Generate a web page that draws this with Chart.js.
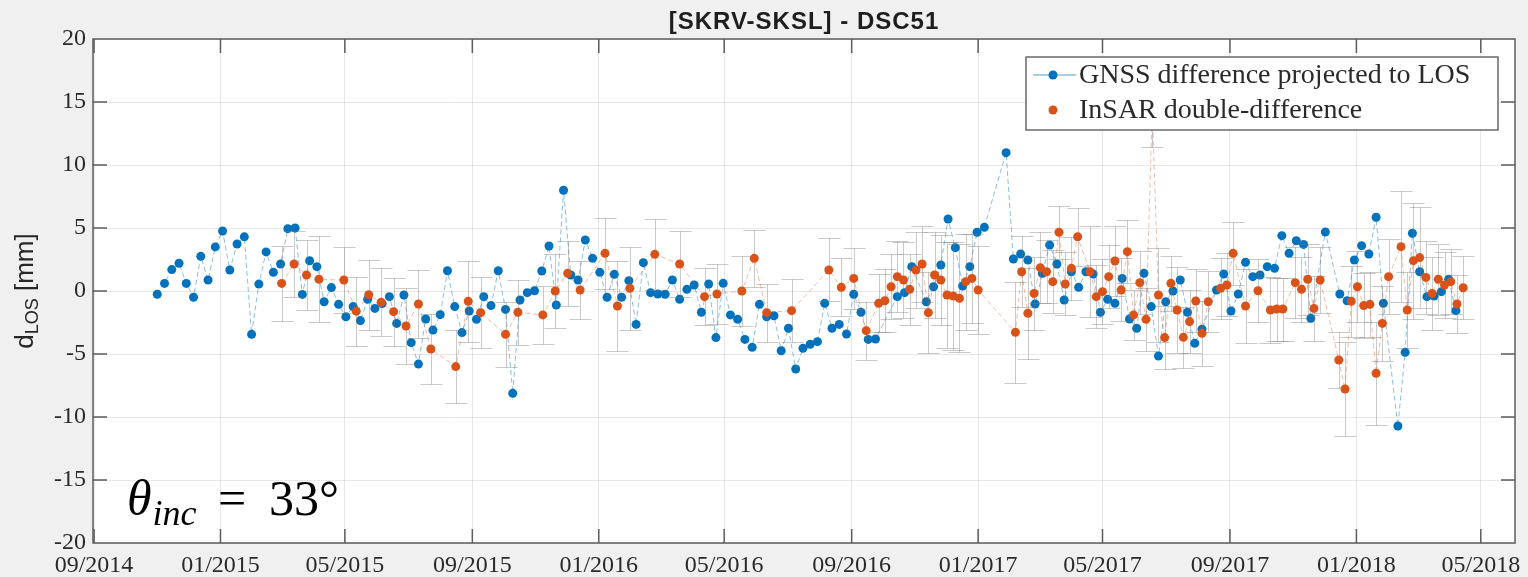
<!DOCTYPE html>
<html>
<head>
<meta charset="utf-8">
<title>[SKRV-SKSL] - DSC51</title>
<script src="https://cdn.jsdelivr.net/npm/chart.js@4.4.1/dist/chart.umd.min.js"></script>
<style>
  html, body { margin: 0; padding: 0; background: #f0f0f0; }
  #wrap { width: 1528px; height: 577px; position: relative; }
  canvas { display: block; }
</style>
</head>
<body>
<div id="wrap"><canvas id="chart" width="1528" height="577"></canvas></div>
<script>
// ---- axis labels ----
const tickLabels = ['09/2014', '01/2015', '05/2015', '09/2015', '01/2016', '05/2016',
                    '09/2016', '01/2017', '05/2017', '09/2017', '01/2018', '05/2018'];
const xRange = ['2014-08-31', '2018-06-03'];
const yRange = [-20, 20];

// ---- GNSS baseline difference projected to LOS (weekly) [mm] ----
const gnssDates = [
  '2014-11-01','2014-11-08','2014-11-15','2014-11-22','2014-11-29','2014-12-06','2014-12-13','2014-12-20','2014-12-27',
  '2015-01-03','2015-01-10','2015-01-17','2015-01-24','2015-01-31','2015-02-07','2015-02-14','2015-02-21','2015-02-28',
  '2015-03-07','2015-03-14','2015-03-21','2015-03-28','2015-04-04','2015-04-11','2015-04-18','2015-04-25',
  '2015-05-02','2015-05-09','2015-05-16','2015-05-23','2015-05-30','2015-06-06','2015-06-13','2015-06-20','2015-06-27',
  '2015-07-04','2015-07-11','2015-07-18','2015-07-25','2015-08-01','2015-08-08','2015-08-15','2015-08-22','2015-08-29',
  '2015-09-05','2015-09-12','2015-09-19','2015-09-26','2015-10-03','2015-10-10','2015-10-17','2015-10-24','2015-10-31',
  '2015-11-07','2015-11-14','2015-11-21','2015-11-28','2015-12-05','2015-12-12','2015-12-19','2015-12-26',
  '2016-01-02','2016-01-09','2016-01-16','2016-01-23','2016-01-30','2016-02-06','2016-02-13','2016-02-20','2016-02-27',
  '2016-03-05','2016-03-12','2016-03-19','2016-03-26','2016-04-02','2016-04-09','2016-04-16','2016-04-23','2016-04-30',
  '2016-05-07','2016-05-14','2016-05-21','2016-05-28','2016-06-04','2016-06-11','2016-06-18','2016-06-25',
  '2016-07-02','2016-07-09','2016-07-16','2016-07-23','2016-07-30','2016-08-06','2016-08-13','2016-08-20','2016-08-27',
  '2016-09-03','2016-09-10','2016-09-17','2016-09-24','2016-10-15','2016-10-22','2016-10-29','2016-11-12','2016-11-19','2016-11-26',
  '2016-12-03','2016-12-10','2016-12-17','2016-12-24','2016-12-31','2017-01-07','2017-01-28',
  '2017-02-04','2017-02-11','2017-02-18','2017-02-25','2017-03-04','2017-03-11','2017-03-18','2017-03-25',
  '2017-04-01','2017-04-08','2017-04-15','2017-04-22','2017-04-29','2017-05-06','2017-05-13','2017-05-20','2017-05-27',
  '2017-06-03','2017-06-10','2017-06-17','2017-06-24','2017-07-01','2017-07-08','2017-07-15','2017-07-22','2017-07-29',
  '2017-08-05','2017-08-19','2017-08-26','2017-09-02','2017-09-09','2017-09-16','2017-09-23','2017-09-30',
  '2017-10-07','2017-10-14','2017-10-21','2017-10-28','2017-11-04','2017-11-11','2017-11-18','2017-12-02',
  '2017-12-16','2017-12-23','2017-12-30','2018-01-06','2018-01-13','2018-01-20','2018-01-27',
  '2018-02-10','2018-02-17','2018-02-24','2018-03-03','2018-03-10','2018-03-17','2018-03-24','2018-03-31','2018-04-07'
];
const gnssValues = [
  -0.26, 0.6, 1.7, 2.2, 0.6, -0.5, 2.75, 0.87, 3.5,
  4.76, 1.67, 3.73, 4.3, -3.44, 0.55, 3.1, 1.48, 2.14,
  4.95, 5.0, -0.27, 2.4, 1.93, -0.85, 0.27, -1.06,
  -2.04, -1.24, -2.35, -0.66, -1.38, -1.0, -0.45, -2.57, -0.32,
  -4.1, -5.8, -2.22, -3.1, -1.88, 1.61, -1.24, -3.3, -1.59,
  -2.25, -0.45, -1.16, 1.61, -1.46, -8.12, -0.71, -0.13, 0.02,
  1.59, 3.57, -1.11, 8.0, 1.27, 0.87, 4.05, 2.59,
  1.48, -0.5, 1.32, -0.5, 0.82, -2.65, 2.25, -0.13, -0.24,
  -0.26, 0.87, -0.66, 0.13, 0.48, -1.69, 0.56, -3.7, 0.61,
  -1.9, -2.25, -3.84, -4.47, -1.06, -2.04, -1.96, -4.74,
  -2.96, -6.19, -4.55, -4.23, -4.02, -0.98, -2.96, -2.65, -3.41,
  -0.26, -1.69, -3.84, -3.81, -0.45, -0.13, 1.93, -0.85, 0.34, 2.06,
  5.71, 3.44, 0.4, 1.93, 4.66, 5.05, 10.98,
  2.54, 2.94, 2.46, -1.03, 1.4, 3.65, 2.14, -0.71,
  1.53, 0.29, 1.53, 1.35, -1.69, -0.66, -0.98, 1.0, -2.22,
  -2.96, 1.4, -1.24, -5.16, -0.85, 0.0, 0.87, -1.69, -4.15,
  -3.04, 0.08, 1.35, -1.59, -0.24, 2.28, 1.14, 1.27,
  1.93, 1.8, 4.39, 2.99, 3.99, 3.7, -2.17, 4.68,
  -0.24, -0.77, 2.46, 3.6, 2.94, 5.85, -0.98,
  -10.71, -4.87, 4.58, 1.53, -0.45, -0.4, -0.05, 0.93, -1.56
];

// ---- InSAR double-difference (Sentinel-1 acquisitions) [mm] and 1-sigma ----
const insarDates = [
  '2015-03-01','2015-03-13','2015-03-25','2015-04-06','2015-04-30','2015-05-12','2015-05-24','2015-06-05','2015-06-17',
  '2015-06-29','2015-07-11','2015-07-23','2015-08-16','2015-08-28','2015-09-09','2015-10-03','2015-10-15','2015-11-08',
  '2015-11-20','2015-12-02','2015-12-14','2016-01-07','2016-01-19','2016-01-31','2016-02-24','2016-03-19','2016-04-12',
  '2016-04-24','2016-05-18','2016-05-30','2016-06-11','2016-07-05','2016-08-10','2016-08-22','2016-09-03','2016-09-15',
  '2016-09-27','2016-10-03','2016-10-09','2016-10-15','2016-10-21','2016-10-27','2016-11-02','2016-11-08','2016-11-14',
  '2016-11-20','2016-11-26','2016-12-02','2016-12-08','2016-12-14','2016-12-20','2016-12-26','2017-01-01',
  '2017-02-06','2017-02-12','2017-02-18','2017-02-24','2017-03-02','2017-03-08','2017-03-14','2017-03-20','2017-03-26',
  '2017-04-01','2017-04-07','2017-04-19','2017-04-25','2017-05-01','2017-05-07','2017-05-13','2017-05-19','2017-05-25',
  '2017-05-31','2017-06-06','2017-06-12','2017-06-18','2017-06-24','2017-06-30','2017-07-06','2017-07-12','2017-07-18',
  '2017-07-24','2017-07-30','2017-08-05','2017-08-11','2017-08-23','2017-08-29','2017-09-04','2017-09-16','2017-09-28',
  '2017-10-10','2017-10-16','2017-10-22','2017-11-03','2017-11-09','2017-11-15','2017-11-21','2017-11-27',
  '2017-12-15','2017-12-21','2017-12-27','2018-01-02','2018-01-08','2018-01-14','2018-01-20','2018-01-26','2018-02-01',
  '2018-02-13','2018-02-19','2018-02-25','2018-03-03','2018-03-09','2018-03-15','2018-03-21','2018-03-27','2018-04-02',
  '2018-04-08','2018-04-14'
];
const insarValues = [
  0.6, 2.14, 1.27, 0.93, 0.87, -1.6, -0.3, -0.9, -1.64,
  -2.78, -1.03, -4.6, -6.0, -0.82, -1.72, -3.44, -1.69, -1.9,
  0.0, 1.4, 0.08, 2.99, -1.19, 0.21, 2.91, 2.14, -0.45,
  -0.24, 0.0, 2.59, -1.72, -1.56, 1.67, 0.29, 1.0, -3.15,
  -0.98, -0.77, 0.34, 1.14, 0.87, 0.13, 1.67, 2.14, -1.72,
  1.27, 0.87, -0.32, -0.4, -0.58, 0.74, 1.0, 0.08,
  -3.28, 1.53, -1.77, -0.19, 1.85, 1.53, 0.74, 4.66, 0.56,
  1.8, 4.31, 1.53, -0.45, -0.05, 1.14, 2.38, 0.08, 3.12,
  -1.9, 0.66, -2.25, 14.5, -0.32, -3.7, 0.61, -1.51, -3.68,
  -2.43, -0.79, -3.36, -0.85, 0.21, 0.48, 2.99, -1.19, 0.02,
  -1.51, -1.43, -1.43, 0.66, 0.13, 0.93, -1.38, 0.87,
  -5.48, -7.78, -0.82, 0.34, -1.16, -1.06, -6.53, -2.57, 1.14,
  3.52, -1.51, 2.41, 2.65, 1.08, -0.19, 0.93, 0.48, 0.74,
  -1.03, 0.26
];
const insarErrors = [
  3.0, 2.6, 2.8, 3.4, 2.6, 2.75, 2.8, 2.7, 2.7,
  3.0, 2.7, 2.8, 2.9, 3.2, 2.8, 2.6, 2.6, 2.3,
  2.9, 2.6, 2.3, 2.8, 3.6, 3.3, 2.8, 2.6, 2.25,
  2.4, 2.8, 2.25, 2.3, 2.5, 2.5, 2.3, 2.4, 2.3,
  2.3, 2.5, 2.6, 2.8, 3.0, 2.8, 3.0, 3.0, 3.2,
  3.4, 3.6, 4.2, 4.3, 4.3, 3.8, 3.5, 3.5,
  4.0, 2.8, 3.6, 2.9, 2.8, 2.5, 2.5, 2.1, 2.5,
  2.5, 2.3, 3.6, 2.5, 2.6, 2.5, 2.8, 2.5, 2.5,
  2.0, 2.5, 2.5, 3.1, 3.7, 2.5, 2.2, 3.4, 2.4,
  2.5, 2.5, 2.6, 2.4, 2.4, 2.5, 2.5, 2.9, 2.5,
  2.6, 2.5, 2.5, 2.8, 2.6, 2.8, 2.6, 2.6,
  2.2, 3.7, 2.8, 2.8, 2.6, 2.6, 4.1, 3.0, 3.0,
  4.4, 3.0, 4.6, 4.0, 2.9, 2.9, 2.8, 2.6, 2.6,
  2.3, 2.5
];

// ---- helpers ----
const toTime = s => Date.parse(s + 'T00:00:00Z');
const labelToTime = l => { const [m, y] = l.split('/'); return Date.UTC(+y, +m - 1, 1); };
const tickTimes = tickLabels.map(labelToTime);

const BLUE = '#0072BD';
const ORANGE = '#D95319';
const SERIF = '"Liberation Serif", "Times New Roman", serif';
const SANS = '"Liberation Sans", Arial, sans-serif';
const AXIS_COLOR = '#5c5c5c';
const TEXT_COLOR = '#2a2a2a';

const gnssPoints = gnssDates.map((d, i) => ({ x: toTime(d), y: gnssValues[i] }));
const insarPoints = insarDates.map((d, i) => ({ x: toTime(d), y: insarValues[i] }));

// grey figure background with a white axes area
const backgroundPlugin = {
  id: 'figureBackground',
  beforeDraw(chart) {
    const { ctx, chartArea: a, width, height } = chart;
    ctx.save();
    ctx.fillStyle = '#f0f0f0';
    ctx.fillRect(0, 0, width, height);
    ctx.fillStyle = '#ffffff';
    ctx.fillRect(a.left, a.top, a.right - a.left, a.bottom - a.top);
    ctx.restore();
  }
};

// vertical error bars with caps, drawn just beneath the series that owns them
const errorBarPlugin = {
  id: 'errorBars',
  beforeDatasetDraw(chart, args) {
    const ds = chart.data.datasets[args.index];
    if (!ds.errors) return;
    const { ctx, chartArea: a, scales: { x, y } } = chart;
    const cap = 11;
    ctx.save();
    ctx.beginPath();
    ctx.rect(a.left, a.top, a.right - a.left, a.bottom - a.top);
    ctx.clip();
    ctx.strokeStyle = 'rgba(120,120,120,0.4)';
    ctx.lineWidth = 1;
    ds.data.forEach((p, i) => {
      const px = Math.round(x.getPixelForValue(p.x)) + 0.5;
      const top = Math.round(y.getPixelForValue(p.y + ds.errors[i])) + 0.5;
      const bot = Math.round(y.getPixelForValue(p.y - ds.errors[i])) + 0.5;
      ctx.beginPath();
      ctx.moveTo(px, top); ctx.lineTo(px, bot);
      ctx.moveTo(px - cap, top); ctx.lineTo(px + cap, top);
      ctx.moveTo(px - cap, bot); ctx.lineTo(px + cap, bot);
      ctx.stroke();
    });
    ctx.restore();
  }
};

// axes box with inward tick marks on all four sides, then the boxed legend
const framePlugin = {
  id: 'axesFrame',
  afterDatasetsDraw(chart) {
    const { ctx, chartArea: a, scales: { x, y } } = chart;
    const len = 14;
    ctx.save();
    ctx.strokeStyle = AXIS_COLOR;
    ctx.lineWidth = 1.5;
    ctx.strokeRect(a.left, a.top, a.right - a.left, a.bottom - a.top);
    ctx.beginPath();
    x.ticks.forEach(t => {
      const px = x.getPixelForValue(t.value);
      if (px <= a.left + 1 || px >= a.right - 1) return;
      ctx.moveTo(px, a.bottom); ctx.lineTo(px, a.bottom - len);
      ctx.moveTo(px, a.top); ctx.lineTo(px, a.top + len);
    });
    y.ticks.forEach(t => {
      const py = y.getPixelForValue(t.value);
      if (py <= a.top + 1 || py >= a.bottom - 1) return;
      ctx.moveTo(a.left, py); ctx.lineTo(a.left + len, py);
      ctx.moveTo(a.right, py); ctx.lineTo(a.right - len, py);
    });
    ctx.stroke();

    // legend box in the upper right corner of the axes
    const ds = chart.data.datasets;
    const bw = 472, bh = 73;
    const bx = a.right - 17 - bw, by = a.top + 18;
    ctx.fillStyle = '#ffffff';
    ctx.fillRect(bx, by, bw, bh);
    ctx.strokeStyle = '#6a6a6a';
    ctx.lineWidth = 1.5;
    ctx.strokeRect(bx, by, bw, bh);
    const rows = [by + 18, by + 53];
    ctx.font = '28px ' + SERIF;
    ctx.textBaseline = 'middle';
    ctx.textAlign = 'left';
    ds.forEach(d => {
      const ry = rows[d.legendRow];
      if (d.legendLine) {
        ctx.strokeStyle = 'rgba(0,114,189,0.7)';
        ctx.lineWidth = 1;
        ctx.beginPath();
        ctx.moveTo(bx + 7, ry); ctx.lineTo(bx + 50, ry);
        ctx.stroke();
      }
      ctx.fillStyle = d.pointBackgroundColor;
      ctx.beginPath();
      ctx.arc(bx + 27, ry, 4.5, 0, Math.PI * 2);
      ctx.fill();
      ctx.fillStyle = TEXT_COLOR;
      ctx.fillText(d.label, bx + 53, ry + 1);
    });
    ctx.restore();
  }
};

// title, y-axis label with subscript and incidence-angle annotation
const textPlugin = {
  id: 'figureText',
  afterDraw(chart) {
    const { ctx, chartArea: a } = chart;
    ctx.save();
    // title
    ctx.fillStyle = '#1e1e1e';
    ctx.font = 'bold 24px ' + SANS;
    ctx.textAlign = 'center';
    ctx.textBaseline = 'alphabetic';
    ctx.letterSpacing = '1px';
    ctx.fillText('[SKRV-SKSL] - DSC51', (a.left + a.right) / 2, 29);
    ctx.letterSpacing = '0px';

    // y-axis label: d_LOS [mm]
    ctx.save();
    ctx.translate(33, (a.top + a.bottom) / 2);
    ctx.rotate(-Math.PI / 2);
    ctx.textAlign = 'left';
    ctx.fillStyle = '#262626';
    const big = '26px ' + SANS, small = '18px ' + SANS;
    ctx.font = big; const wD = ctx.measureText('d').width;
    ctx.font = small; const wSub = ctx.measureText('LOS').width;
    ctx.font = big; const wRest = ctx.measureText(' [mm]').width;
    let sx = -(wD + wSub + wRest) / 2;
    ctx.font = big; ctx.fillText('d', sx, 0); sx += wD;
    ctx.font = small; ctx.fillText('LOS', sx, 5); sx += wSub;
    ctx.font = big; ctx.fillText(' [mm]', sx, 0);
    ctx.restore();

    // θ_inc = 33°
    ctx.fillStyle = '#000000';
    ctx.textAlign = 'left';
    ctx.textBaseline = 'alphabetic';
    const base = a.bottom - 28;
    let tx = a.left + 34;
    ctx.font = 'italic 50px ' + SERIF;
    ctx.fillText('θ', tx, base);
    tx += ctx.measureText('θ').width + 1;
    ctx.font = 'italic 36px ' + SERIF;
    ctx.fillText('inc', tx, base + 10);
    ctx.font = '50px ' + SERIF;
    ctx.fillText('=', a.left + 125, base);
    ctx.fillText('33°', a.left + 176, base);
    ctx.restore();
  }
};

const tickFont = { family: SERIF, size: 24 };

new Chart(document.getElementById('chart'), {
  type: 'line',
  data: {
    datasets: [
      {
        label: 'GNSS difference projected to LOS',
        data: gnssPoints,
        order: 2,
        legendRow: 0,
        legendLine: true,
        borderColor: 'rgba(0,114,189,0.45)',
        borderWidth: 1,
        borderDash: [5, 3],
        pointRadius: 4.5,
        pointHoverRadius: 4.5,
        pointBorderWidth: 0,
        pointBackgroundColor: BLUE,
        tension: 0
      },
      {
        label: 'InSAR double-difference',
        data: insarPoints,
        errors: insarErrors,
        order: 1,
        legendRow: 1,
        legendLine: false,
        borderColor: 'rgba(217,83,25,0.38)',
        borderWidth: 1,
        borderDash: [5, 3],
        pointRadius: 4.5,
        pointHoverRadius: 4.5,
        pointBorderWidth: 0,
        pointBackgroundColor: ORANGE,
        tension: 0
      }
    ]
  },
  options: {
    responsive: false,
    animation: false,
    devicePixelRatio: 1,
    parsing: false,
    events: [],
    layout: { padding: { top: 39, right: 13, left: 0, bottom: 0 } },
    plugins: {
      legend: { display: false },
      tooltip: { enabled: false },
      title: { display: false }
    },
    scales: {
      x: {
        type: 'linear',
        min: toTime(xRange[0]),
        max: toTime(xRange[1]),
        afterBuildTicks: s => { s.ticks = tickTimes.map(v => ({ value: v })); },
        afterFit: s => { s.height = 34; s.paddingLeft = 0; s.paddingRight = 0; },
        ticks: {
          callback: (v, i) => tickLabels[i],
          font: tickFont,
          color: TEXT_COLOR,
          padding: 8,
          autoSkip: false,
          maxRotation: 0,
          minRotation: 0
        },
        grid: { color: 'rgba(0,0,0,0.09)', lineWidth: 1, drawTicks: false },
        border: { display: false }
      },
      y: {
        min: yRange[0],
        max: yRange[1],
        afterFit: s => { s.width = 93; s.paddingTop = 0; s.paddingBottom = 0; },
        ticks: { stepSize: 5, font: tickFont, color: TEXT_COLOR, padding: 7 },
        grid: { color: 'rgba(0,0,0,0.09)', lineWidth: 1, drawTicks: false },
        border: { display: false }
      }
    }
  },
  plugins: [backgroundPlugin, errorBarPlugin, framePlugin, textPlugin]
});
</script>
</body>
</html>
